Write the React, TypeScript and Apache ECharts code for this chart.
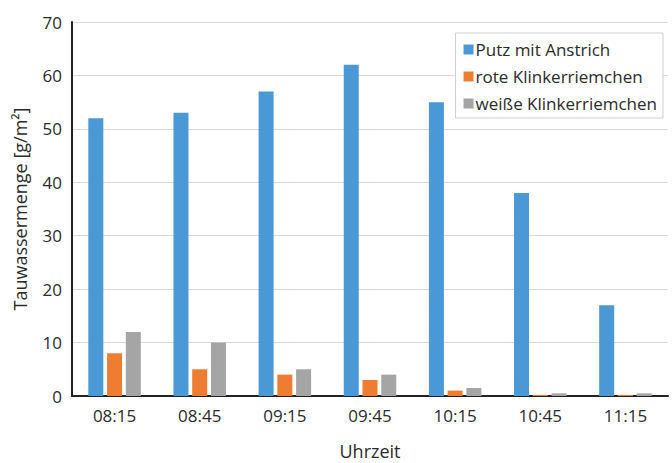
import React, { useEffect, useRef } from "react";
import * as echarts from "echarts";

const categories = ["08:15", "08:45", "09:15", "09:45", "10:15", "10:45", "11:15"];
const putz = [52, 53, 57, 62, 55, 38, 17];
const rote = [8, 5, 4, 3, 1, 0.2, 0.2];
const weisse = [12, 10, 5, 4, 1.5, 0.5, 0.5];
const seriesNames = ["Putz mit Anstrich", "rote Klinkerriemchen", "weiße Klinkerriemchen"];
const colors = ["#4b98d6", "#ee7d31", "#a5a5a5"];

export default function App() {
  const ref = useRef<HTMLDivElement>(null);
  useEffect(() => {
    if (!ref.current) return;
    const chart = echarts.init(ref.current, null, { renderer: "svg" });
    const font = "'Open Sans', sans-serif";
    chart.setOption({
      animation: false,
      textStyle: { fontFamily: font },
      grid: { left: 72, right: 4, top: 22, bottom: 67, outerBoundsMode: "none", containLabel: false },
      legend: {
        orient: "vertical",
        right: 9,
        top: 33,
        itemWidth: 10,
        itemHeight: 10,
        itemGap: 10,
        padding: [8, 6, 6, 8],
        backgroundColor: "#ffffff",
        borderColor: "#cfcfcf",
        borderWidth: 1,
        icon: "rect",
        textStyle: { fontSize: 17, color: "#2b2b2b", fontFamily: font, padding: [0, 0, 0, -3] },
        data: seriesNames,
      },
      xAxis: {
        type: "category",
        data: categories,
        name: "Uhrzeit",
        nameLocation: "middle",
        nameGap: 46,
        nameTextStyle: { fontSize: 18, color: "#2b2b2b", fontFamily: font },
        axisLine: { lineStyle: { color: "#222", width: 2 } },
        axisTick: { show: false },
        axisLabel: { fontSize: 17, color: "#2b2b2b", margin: 11, fontFamily: font },
      },
      yAxis: {
        type: "value",
        min: 0,
        max: 70,
        interval: 10,
        name: "Tauwassermenge [g/m²]",
        nameLocation: "middle",
        nameGap: 43,
        nameTextStyle: { fontSize: 18, color: "#2b2b2b", fontFamily: font },
        axisLine: { show: true, lineStyle: { color: "#222", width: 2 } },
        axisTick: { show: false },
        axisLabel: { fontSize: 17, color: "#2b2b2b", margin: 10, fontFamily: font },
        splitLine: { lineStyle: { color: "#d9d9d9", width: 1 } },
      },
      series: [
        { name: seriesNames[0], type: "bar", data: putz, barWidth: 15, barGap: "25%", itemStyle: { color: colors[0] } },
        { name: seriesNames[1], type: "bar", data: rote, barWidth: 15, barGap: "25%", itemStyle: { color: colors[1] } },
        { name: seriesNames[2], type: "bar", data: weisse, barWidth: 15, barGap: "25%", itemStyle: { color: colors[2] } },
      ],
    });
    return () => chart.dispose();
  }, []);
  return <div ref={ref} style={{ width: 672, height: 463, position: "absolute", left: 0, top: 0, background: "#fff" }} />;
}
